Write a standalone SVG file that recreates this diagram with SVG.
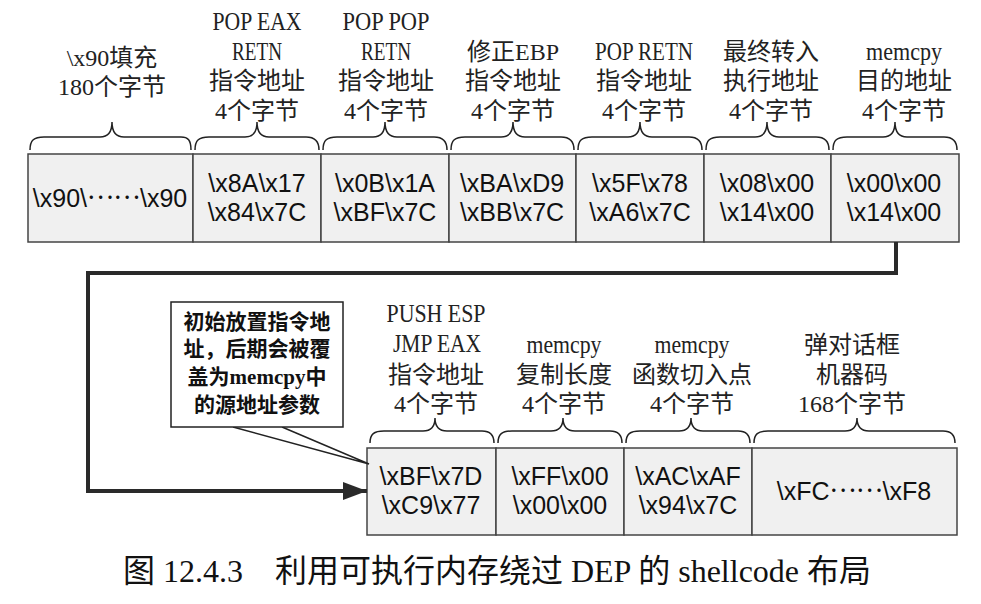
<svg xmlns="http://www.w3.org/2000/svg" width="981" height="604" viewBox="0 0 981 604">
<defs>
<style>
.cell{fill:#f0f0f0;stroke:#444;stroke-width:1.5}
.val{font-family:"Liberation Sans",Arial,"Noto Sans CJK SC",sans-serif;font-size:25px;fill:#111;text-anchor:middle}
.dots{font-family:"Noto Sans CJK SC",sans-serif}
.lbl{font-family:"Liberation Serif","Noto Sans CJK SC",serif;font-size:24px;fill:#222;text-anchor:middle}
.lat{font-size:26px}
.brace{fill:none;stroke:#222;stroke-width:1.5}
.note{font-family:"Liberation Serif","Noto Sans CJK SC",serif;font-size:21px;font-weight:bold;fill:#111;text-anchor:middle}
.conn{fill:none;stroke:#2a2a2a;stroke-width:4}
.cap{font-family:"Liberation Serif","Noto Sans CJK SC",serif;font-size:32px;fill:#111;text-anchor:middle}
</style>
<marker id="arr" markerUnits="userSpaceOnUse" markerWidth="24" markerHeight="20" refX="24" refY="10" orient="auto">
<path d="M0,1 L24,10 L0,19 Z" fill="#2a2a2a"/>
</marker>
</defs>
<rect width="981" height="604" fill="#fff"/>

<!-- top row -->
<g id="n1">
<path class="brace" d="M30,150 C30,140 34,137 44,137 L100,137 C108,137 112,132 112,122 C112,132 116,137 124,137 L181,137 C188,137 191,140 191,150"/>
<text class="lbl" x="112" y="66">\x90填充</text>
<text class="lbl" x="112" y="95">180个字节</text>
<rect class="cell" x="28" y="154" width="165" height="88"/>
<text class="val" x="110" y="207">\x90\<tspan class="dots" dy="-8">……</tspan><tspan dy="8">\x90</tspan></text>
</g>
<g id="n2">
<path class="brace" d="M195,150 C195,140 199,137 209,137 L245,137 C253,137 257,132 257,122 C257,132 261,137 269,137 L306,137 C313,137 319,140 319,150"/>
<text class="lbl lat" x="257" y="30" textLength="89" lengthAdjust="spacingAndGlyphs">POP EAX</text>
<text class="lbl lat" x="257" y="60" textLength="50" lengthAdjust="spacingAndGlyphs">RETN</text>
<text class="lbl" x="257" y="89">指令地址</text>
<text class="lbl" x="257" y="119">4个字节</text>
<rect class="cell" x="193" y="154" width="128" height="88"/>
<text class="val" x="257" y="192">\x8A\x17</text>
<text class="val" x="257" y="221">\x84\x7C</text>
</g>
<g id="n3">
<path class="brace" d="M323,150 C323,140 327,137 337,137 L373,137 C381,137 385,132 385,122 C385,132 389,137 397,137 L434,137 C441,137 447,140 447,150"/>
<text class="lbl lat" x="386" y="30" textLength="87" lengthAdjust="spacingAndGlyphs">POP POP</text>
<text class="lbl lat" x="386" y="60" textLength="50" lengthAdjust="spacingAndGlyphs">RETN</text>
<text class="lbl" x="386" y="89">指令地址</text>
<text class="lbl" x="386" y="119">4个字节</text>
<rect class="cell" x="321" y="154" width="128" height="88"/>
<text class="val" x="385" y="192">\x0B\x1A</text>
<text class="val" x="385" y="221">\xBF\x7C</text>
</g>
<g id="n4">
<path class="brace" d="M451,150 C451,140 455,137 465,137 L501,137 C509,137 513,132 513,122 C513,132 517,137 525,137 L561,137 C568,137 574,140 574,150"/>
<text class="lbl" x="513" y="60">修正EBP</text>
<text class="lbl" x="513" y="89">指令地址</text>
<text class="lbl" x="513" y="119">4个字节</text>
<rect class="cell" x="449" y="154" width="127" height="88"/>
<text class="val" x="512" y="192">\xBA\xD9</text>
<text class="val" x="512" y="221">\xBB\x7C</text>
</g>
<g id="n5">
<path class="brace" d="M578,150 C578,140 582,137 592,137 L628,137 C636,137 640,132 640,122 C640,132 644,137 652,137 L689,137 C696,137 702,140 702,150"/>
<text class="lbl lat" x="644" y="60" textLength="98" lengthAdjust="spacingAndGlyphs">POP RETN</text>
<text class="lbl" x="644" y="89">指令地址</text>
<text class="lbl" x="644" y="119">4个字节</text>
<rect class="cell" x="576" y="154" width="128" height="88"/>
<text class="val" x="640" y="192">\x5F\x78</text>
<text class="val" x="640" y="221">\xA6\x7C</text>
</g>
<g id="n6">
<path class="brace" d="M706,150 C706,140 710,137 720,137 L755,137 C763,137 767,132 767,122 C767,132 771,137 779,137 L816,137 C823,137 829,140 829,150"/>
<text class="lbl" x="771" y="60">最终转入</text>
<text class="lbl" x="771" y="89">执行地址</text>
<text class="lbl" x="771" y="119">4个字节</text>
<rect class="cell" x="704" y="154" width="127" height="88"/>
<text class="val" x="767" y="192">\x08\x00</text>
<text class="val" x="767" y="221">\x14\x00</text>
</g>
<g id="n7">
<path class="brace" d="M833,150 C833,140 837,137 847,137 L883,137 C891,137 895,132 895,122 C895,132 899,137 907,137 L944,137 C951,137 957,140 957,150"/>
<text class="lbl lat" x="904" y="60" textLength="76" lengthAdjust="spacingAndGlyphs">memcpy</text>
<text class="lbl" x="904" y="89">目的地址</text>
<text class="lbl" x="904" y="119">4个字节</text>
<rect class="cell" x="831" y="154" width="128" height="88"/>
<text class="val" x="894" y="192">\x00\x00</text>
<text class="val" x="894" y="221">\x14\x00</text>
</g>

<!-- bottom row -->
<g id="n8">
<path class="brace" d="M370,443 C370,434 374,431 384,431 L423,431 C431,431 435,427 435,418 C435,427 439,431 447,431 L482,431 C489,431 494,434 494,443"/>
<text class="lbl lat" x="436" y="322" textLength="99" lengthAdjust="spacingAndGlyphs">PUSH ESP</text>
<text class="lbl lat" x="437" y="352" textLength="88" lengthAdjust="spacingAndGlyphs">JMP EAX</text>
<text class="lbl" x="436" y="383">指令地址</text>
<text class="lbl" x="436" y="412">4个字节</text>
<rect class="cell" x="367" y="448" width="129" height="87"/>
<text class="val" x="431" y="485">\xBF\x7D</text>
<text class="val" x="431" y="514">\xC9\x77</text>
</g>
<g id="n9">
<path class="brace" d="M498,443 C498,434 502,431 512,431 L551,431 C559,431 563,427 563,418 C563,427 567,431 575,431 L610,431 C617,431 622,434 622,443"/>
<text class="lbl lat" x="564" y="353" textLength="75" lengthAdjust="spacingAndGlyphs">memcpy</text>
<text class="lbl" x="564" y="383">复制长度</text>
<text class="lbl" x="564" y="412">4个字节</text>
<rect class="cell" x="496" y="448" width="128" height="87"/>
<text class="val" x="560" y="485">\xFF\x00</text>
<text class="val" x="560" y="514">\x00\x00</text>
</g>
<g id="n10">
<path class="brace" d="M626,443 C626,434 630,431 640,431 L679,431 C687,431 691,427 691,418 C691,427 695,431 703,431 L738,431 C745,431 750,434 750,443"/>
<text class="lbl lat" x="692" y="353" textLength="75" lengthAdjust="spacingAndGlyphs">memcpy</text>
<text class="lbl" x="692" y="383">函数切入点</text>
<text class="lbl" x="692" y="412">4个字节</text>
<rect class="cell" x="624" y="448" width="128" height="87"/>
<text class="val" x="688" y="485">\xAC\xAF</text>
<text class="val" x="688" y="514">\x94\x7C</text>
</g>
<g id="n11">
<path class="brace" d="M754,443 C754,434 758,431 768,431 L845,431 C853,431 857,427 857,418 C857,427 861,431 869,431 L943,431 C950,431 955,434 955,443"/>
<text class="lbl" x="852" y="353">弹对话框</text>
<text class="lbl" x="852" y="383">机器码</text>
<text class="lbl" x="852" y="412">168个字节</text>
<rect class="cell" x="752" y="448" width="205" height="87"/>
<text class="val" x="854" y="500">\xFC<tspan class="dots" dy="-8">……</tspan><tspan dy="8">\xF8</tspan></text>
</g>

<!-- callout note -->
<g id="note">
<path d="M233,427 L369,464 L282,427" fill="#fff" stroke="#222" stroke-width="1.5"/>
<rect x="171" y="302" width="172" height="125" fill="#fff" stroke="#222" stroke-width="1.5"/>
<text class="note" x="257" y="329">初始放置指令地</text>
<text class="note" x="257" y="356">址，后期会被覆</text>
<text class="note" x="257" y="384">盖为memcpy中</text>
<text class="note" x="257" y="412">的源地址参数</text>
</g>

<!-- connectors -->
<g id="connectors">
<path class="conn" d="M896,242 V273 H88 V491 H367" marker-end="url(#arr)"/>
</g>

<text class="cap" x="497" y="582">图 12.4.3　利用可执行内存绕过 DEP 的 shellcode 布局</text>
</svg>
